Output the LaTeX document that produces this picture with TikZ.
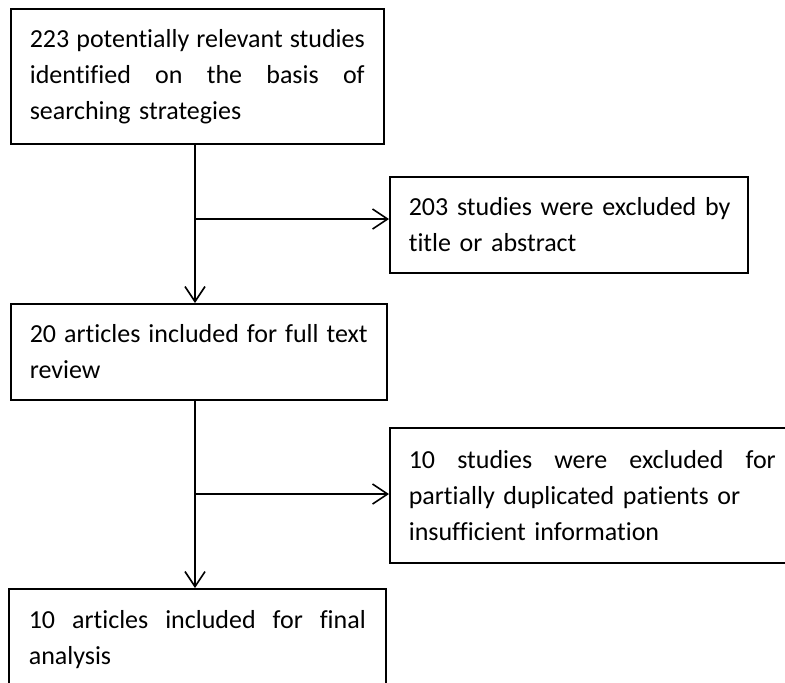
\documentclass[tikz,border=0pt]{standalone}
\usepackage{fontspec}
\setmainfont{Carlito}[Ligatures=NoCommon]
\usetikzlibrary{arrows.meta}
\begin{document}
\begin{tikzpicture}[x=1pt,y=-1pt,
  box/.style={draw, line width=1.6pt, anchor=north west, inner xsep=19pt, inner ysep=2pt,
    align=left, font=\fontsize{26}{36}\selectfont},
  link/.style={line width=1.6pt},
  arr/.style={line width=1.6pt, -{Straight Barb[length=15pt,width=20pt,line width=1.6pt]}}
]
\clip (0,0) rectangle (785,683);
\node[box, minimum width=373pt, minimum height=135pt, text width=335pt] (b1) at (10,8)
  {\makebox[335pt][l]{223\hfill potentially\hfill relevant\hfill studies}\\
   \makebox[335pt][l]{identified\hfill on\hfill the\hfill basis\hfill of}\\
   \mbox{searching strategies}};
\node[box, minimum width=358pt, minimum height=96pt, text width=320pt] (e1) at (389,176)
  {\mbox{203 studies were excluded by}\\ \mbox{title or abstract}};
\node[box, minimum width=376pt, minimum height=96pt, text width=338pt] (b2) at (10,303)
  {\makebox[338pt][l]{20\hfill articles\hfill included\hfill for\hfill full\hfill text}\\ \mbox{review}};
\node[box, minimum width=405pt, minimum height=135pt, text width=367pt] (e2) at (389,427)
  {\makebox[367pt][l]{10\hfill studies\hfill were\hfill excluded\hfill for}\\
   \mbox{partially duplicated patients or}\\ \mbox{insufficient information}};
\node[box, inner xsep=20pt, minimum width=377pt, minimum height=102pt, text width=337pt] (b3) at (8,588)
  {\makebox[337pt][l]{10\hfill articles\hfill included\hfill for\hfill final}\\ \mbox{analysis}};
\coordinate (j1) at (195,219);
\coordinate (j2) at (195,494);
\draw[link] (b1.south -| j1) -- (j1);
\draw[arr] (j1) -- (b2.north -| j1);
\draw[arr] (j1) -- (j1 -| e1.west);
\draw[link] (b2.south -| j2) -- (j2);
\draw[arr] (j2) -- (b3.north -| j2);
\draw[arr] (j2) -- (j2 -| e2.west);
\end{tikzpicture}
\end{document}
